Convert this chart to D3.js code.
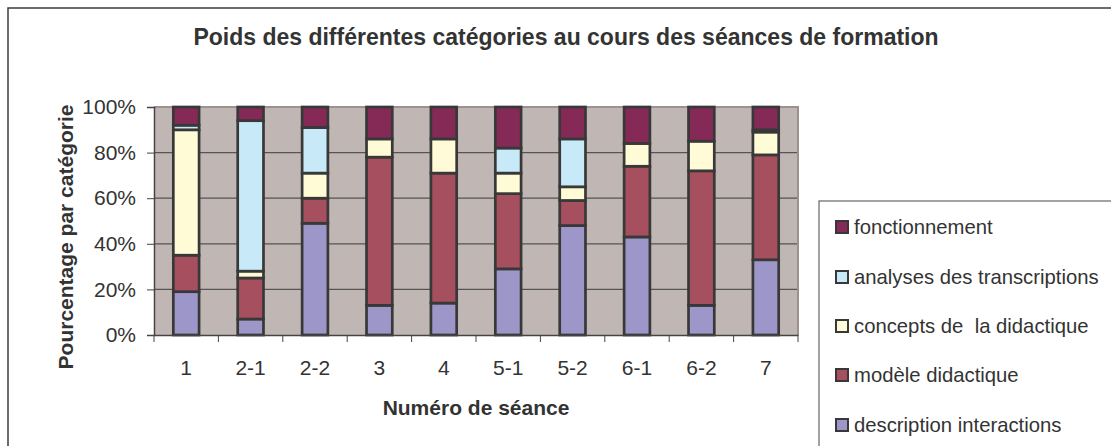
<!DOCTYPE html>
<html>
<head>
<meta charset="utf-8">
<script src="https://cdn.jsdelivr.net/npm/d3@7"></script>
<style>
  body { margin: 0; background: #fff; }
  text { font-family: "Liberation Sans", Arial, sans-serif; fill: #333; }
</style>
</head>
<body>
<svg id="chart" width="1111" height="446"></svg>
<script>
// séances de formation
let seances = ["1", "2-1", "2-2", "3", "4", "5-1", "5-2", "6-1", "6-2", "7"];

// pourcentages par catégorie
let description = [19, 7, 49, 13, 14, 29, 48, 43, 13, 33];
let modele = [16, 18, 11, 65, 57, 33, 11, 31, 59, 46];
let concepts = [55, 3, 11, 8, 15, 9, 6, 10, 13, 10];
let analyses = [2, 66, 20, 0, 0, 11, 21, 0, 0, 1];
let fonctionnement = [8, 6, 9, 14, 14, 18, 14, 16, 15, 10];

let categories = ["description interactions", "modèle didactique",
    "concepts de  la didactique", "analyses des transcriptions", "fonctionnement"];
let yTicks = [0, 20, 40, 60, 80, 100];

let colors = ["#9D96C9", "#A64F5F", "#FFFBD6", "#C8EAF8", "#852A57"];

let rows = seances.map((s, i) => ({
    seance: s,
    "description interactions": description[i],
    "modèle didactique": modele[i],
    "concepts de  la didactique": concepts[i],
    "analyses des transcriptions": analyses[i],
    "fonctionnement": fonctionnement[i]
}));

let svg = d3.select("#chart");
let plotLeft = 154, plotRight = 798, plotTop = 107, plotBottom = 335;

// cadre extérieur
svg.append("rect")
    .attr("x", 8).attr("y", 8)
    .attr("width", 1300).attr("height", 800)
    .attr("fill", "none")
    .attr("stroke", "#3c3c3c")
    .attr("stroke-width", 1.5);

svg.append("text")
    .attr("x", 566).attr("y", 45)
    .attr("text-anchor", "middle")
    .style("font-weight", "bold")
    .style("font-size", "23px")
    .text("Poids des différentes catégories au cours des séances de formation");

let x = d3.scaleBand()
    .domain(seances)
    .range([plotLeft, plotRight])
    .paddingInner(0.6)
    .paddingOuter(0.3);

let y = d3.scaleLinear()
    .domain([0, 100])
    .range([plotBottom, plotTop]);

// fond de la zone de tracé
svg.append("rect")
    .attr("x", plotLeft).attr("y", plotTop)
    .attr("width", plotRight - plotLeft).attr("height", plotBottom - plotTop)
    .attr("fill", "#C0B7B4");

svg.append("g")
    .selectAll("line")
    .data(yTicks.filter(d => d > 0 && d < 100))
    .enter().append("line")
    .attr("x1", plotLeft).attr("x2", plotRight)
    .attr("y1", d => y(d)).attr("y2", d => y(d))
    .attr("stroke", "#555")
    .attr("stroke-width", 1.2);

// bordure haut/droite
svg.append("path")
    .attr("d", `M${plotLeft},${plotTop}H${plotRight}V${plotBottom}`)
    .attr("fill", "none")
    .attr("stroke", "#9B918D")
    .attr("stroke-width", 2);

let stack = d3.stack().keys(categories);
let series = stack(rows);

svg.append("g")
    .selectAll("g")
    .data(series)
    .enter().append("g")
    .attr("fill", (d, i) => colors[i])
    .selectAll("rect")
    .data(d => d.filter(p => p[1] - p[0] > 0))
    .enter().append("rect")
    .attr("x", d => x(d.data.seance))
    .attr("width", x.bandwidth())
    .attr("y", d => y(d[1]))
    .attr("height", d => y(d[0]) - y(d[1]))
    .attr("stroke", "#383838")
    .attr("stroke-width", 2.7);

// axe Y
let yAxis = svg.append("g")
    .attr("transform", `translate(${plotLeft},0)`)
    .call(d3.axisLeft(y).tickValues(yTicks).tickSize(7).tickPadding(11)
        .tickFormat(d => d + "%"));
yAxis.select(".domain").attr("stroke", "#444").attr("stroke-width", 1.5);
yAxis.selectAll(".tick line").attr("stroke", "#444");
yAxis.selectAll("text").style("font-size", "21px").attr("fill", "#333");

// axe X
let xAxis = svg.append("g")
    .attr("transform", `translate(0,${plotBottom})`)
    .call(d3.axisBottom(x).tickSize(0).tickPadding(25));
xAxis.select(".domain").attr("stroke", "#444").attr("stroke-width", 1.5);
xAxis.selectAll("text").style("font-size", "21px").attr("fill", "#333");

let step = x.step();
svg.append("g")
    .selectAll("line")
    .data(d3.range(seances.length + 1))
    .enter().append("line")
    .attr("x1", i => plotLeft + i * step).attr("x2", i => plotLeft + i * step)
    .attr("y1", plotBottom).attr("y2", plotBottom + 7)
    .attr("stroke", "#444");

svg.append("text")
    .attr("x", 476).attr("y", 415)
    .attr("text-anchor", "middle")
    .style("font-weight", "bold")
    .style("font-size", "21px")
    .text("Numéro de séance");

svg.append("text")
    .attr("transform", "translate(73,237) rotate(-90)")
    .attr("text-anchor", "middle")
    .style("font-weight", "bold")
    .style("font-size", "21px")
    .text("Pourcentage par catégorie");

// légende
let legend = svg.append("g");
legend.append("rect")
    .attr("x", 819).attr("y", 201)
    .attr("width", 400).attr("height", 400)
    .attr("fill", "#fff")
    .attr("stroke", "#666")
    .attr("stroke-width", 1.2);

let legendItems = categories.slice().reverse();
let legendY = [227, 277, 326, 375, 425];

let item = legend.selectAll(".item")
    .data(legendItems)
    .enter().append("g")
    .attr("class", "item")
    .attr("transform", (d, i) => `translate(836,${legendY[i]})`);

item.append("rect")
    .attr("x", 0).attr("y", -6)
    .attr("width", 12).attr("height", 12)
    .attr("fill", d => colors[categories.indexOf(d)])
    .attr("stroke", "#383838")
    .attr("stroke-width", 2);

item.append("text")
    .attr("x", 18).attr("y", 0)
    .attr("dy", "0.35em")
    .style("font-size", "20.3px")
    .style("white-space", "pre")
    .text(d => d);
</script>
</body>
</html>
